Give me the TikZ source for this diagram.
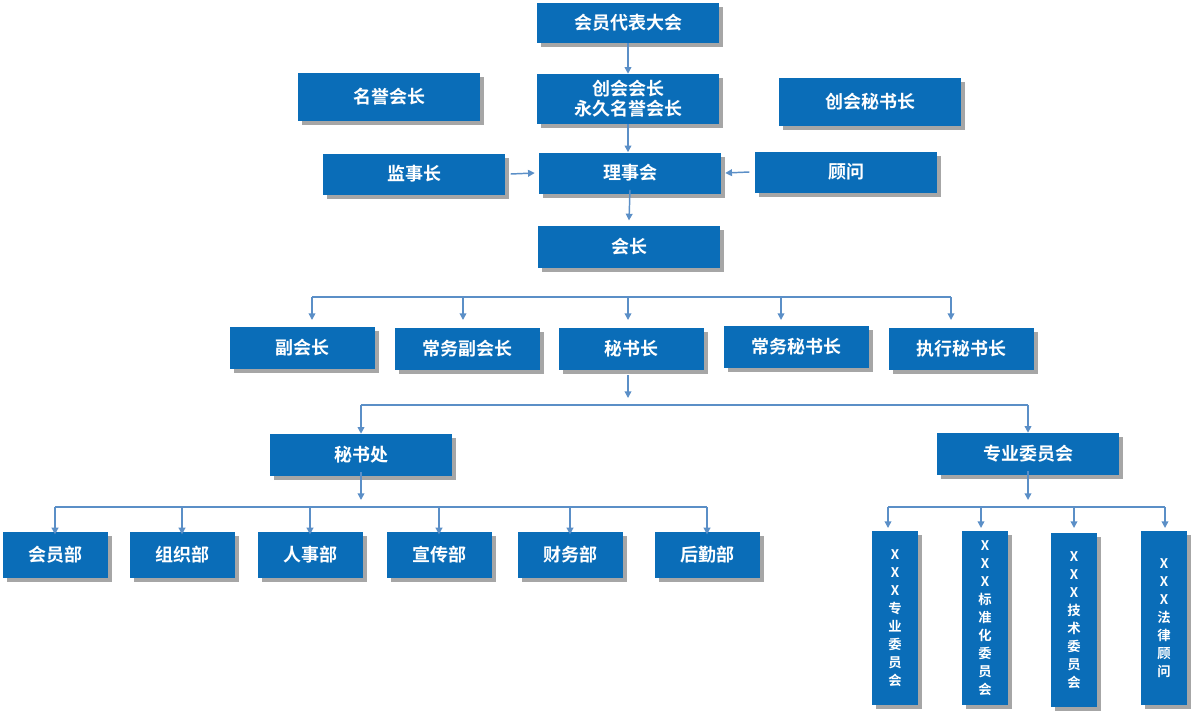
\documentclass[tikz,border=0pt]{standalone}
\usepackage{fontspec}
\newfontfamily\cjk{Noto Sans CJK SC Bold}
\usetikzlibrary{shadows,arrows.meta}
\definecolor{boxblue}{HTML}{0A6DB8}
\definecolor{lineblue}{HTML}{5B8FC7}
\begin{document}
\begin{tikzpicture}[x=0.75pt,y=-0.75pt,
 box/.style={fill=boxblue,draw=none,text=white,font=\cjk\fontsize{13.5}{15}\selectfont,align=center,inner sep=0pt,
   drop shadow={shadow xshift=3pt,shadow yshift=-3pt,fill=black,opacity=0.35}},
 vbox/.style={box,minimum width=34.5pt,minimum height=130pt,font=\cjk\fontsize{10}{13.5}\selectfont,anchor=north},
 ln/.style={draw=lineblue,line width=1.1pt},
 ar/.style={ln,-{Triangle[length=5pt,width=5pt]}}]
\useasboundingbox (0,0) rectangle (1195,714);
\tikzset{bw/.style 2 args={minimum width=#1*0.75pt,minimum height=#2*0.75pt}}
\node[box,bw={182}{40}] (dh) at (628,23) {会员代表大会};
\node[box,bw={182}{48}] (my) at (389,97) {名誉会长};
\node[box,bw={182}{50}] (ch) at (628,99) {创会会长\\永久名誉会长};
\node[box,bw={182}{48}] (cm) at (870,102) {创会秘书长};
\node[box,bw={182}{41}] (js) at (414,174) {监事长};
\node[box,bw={182}{41}] (ls) at (630,173) {理事会};
\node[box,bw={182}{41}] (gw) at (846,172) {顾问};
\node[box,bw={182}{42}] (hz) at (629,247) {会长};
\node[box,bw={145}{42}] (f1) at (302,348) {副会长};
\node[box,bw={145}{42}] (f2) at (467,349) {常务副会长};
\node[box,bw={145}{42}] (f3) at (631,349) {秘书长};
\node[box,bw={145}{42}] (f4) at (796,347) {常务秘书长};
\node[box,bw={145}{42}] (f5) at (961,349) {执行秘书长};
\node[box,bw={182}{42}] (ms) at (361,455) {秘书处};
\node[box,bw={182}{42}] (zy) at (1028,454) {专业委员会};
\foreach \n/\x/\t in {d1/55/会员部,d2/182/组织部,d3/310/人事部,d4/439/宣传部,d5/570/财务部,d6/707/后勤部}
  \node[box,bw={105}{46}] (\n) at (\x,555) {\t};
\node[vbox] (v1) at (895,531) {X\\X\\X\\专\\业\\委\\员\\会};
\node[vbox] (v2) at (985,531) {X\\X\\X\\标\\准\\化\\委\\员\\会};
\node[vbox] (v3) at (1074,533) {X\\X\\X\\技\\术\\委\\员\\会};
\node[vbox] (v4) at (1164,531) {X\\X\\X\\法\\律\\顾\\问};
\draw[ar] (dh) -- (ch);
\draw[ar] (ch.south) -- (ch.south|-ls.north);
\draw[ar] (js.east) ++(4pt,0) -- ([xshift=-3pt]ls.west);
\draw[ar] (gw.west) ++(-4pt,0) -- ([xshift=3pt]ls.east);
\draw[ar] (ls.south) ++(0,3pt) -- ([yshift=4pt]hz.north);
\coordinate (b1) at (629,297);
\draw[ln] (312,297) -- (951,297);
\foreach \x/\n in {312/f1,463/f2,628/f3,781/f4,951/f5}
  \draw[ar] (\x,297) -- (\x,320);
\draw[ar] (628,375) -- (628,398);
\draw[ln] (361,405) -- (1028,405);
\draw[ar] (361,405) -- (ms.north);
\draw[ar] (1028,405) -- (zy.north);
\draw[ar] (ms.south) ++(0,3pt) -- (361,500);
\draw[ln] (55,507) -- (707,507);
\foreach \n in {d1,d2,d3,d4,d5,d6} \draw[ar] (\n.north|-0,507) -- ([yshift=-2pt]\n.north);
\draw[ar] (zy.south) ++(0,3pt) -- (1028,500);
\draw[ln] (888,507) -- (1165,507);
\foreach \x in {888,981,1074,1165} \draw[ar] (\x,507) -- (\x,528);
\end{tikzpicture}
\end{document}
